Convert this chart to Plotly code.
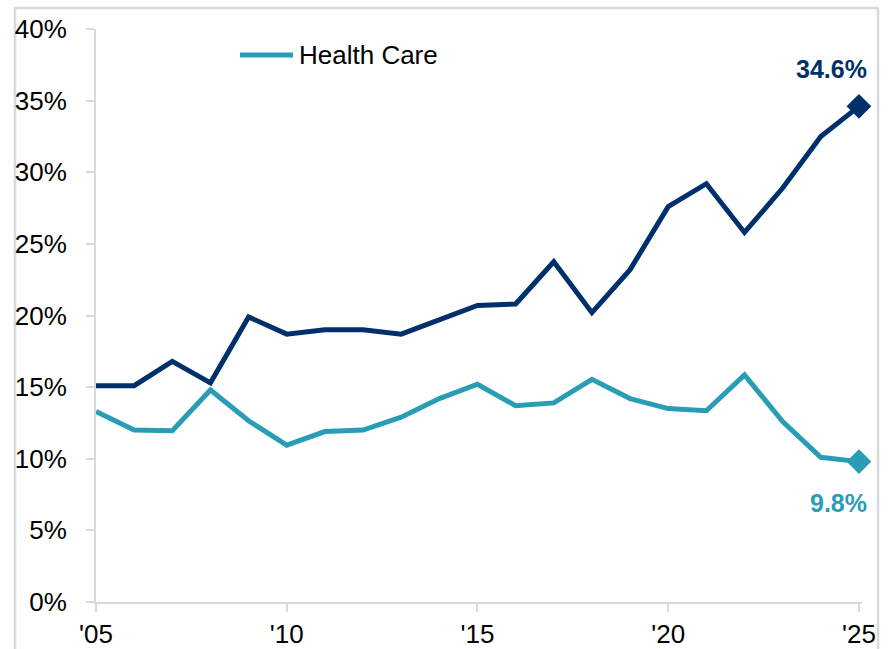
import plotly.graph_objects as go

# Share of total by year
years = list(range(2005, 2026))
series_dark = [15.1, 15.1, 16.8, 15.3, 19.9, 18.7, 19.0, 19.0, 18.7, 19.7, 20.7,
               20.8, 23.75, 20.2, 23.2, 27.6, 29.2, 25.8, 28.9, 32.5, 34.6]
health_care = [13.3, 12.0, 11.95, 14.8, 12.65, 10.95, 11.9, 12.0, 12.9, 14.2, 15.2,
               13.7, 13.9, 15.55, 14.2, 13.5, 13.35, 15.85, 12.6, 10.1, 9.8]

x_tick_vals = [2005, 2010, 2015, 2020, 2025]
x_tick_text = ["'05", "'10", "'15", "'20", "'25"]
y_tick_vals = [0, 5, 10, 15, 20, 25, 30, 35, 40]
y_tick_text = ["0%", "5%", "10%", "15%", "20%", "25%", "30%", "35%", "40%"]

DARK = "#00306B"
TEAL = "#2A9DB6"
GRAY = "#D9D9D9"
FONT = "Liberation Sans, Arial, sans-serif"

W, H = 891, 649
ML, MR, MT, MB = 96, 29, 29, 47
PW, PH = W - ML - MR, H - MT - MB


def px_x(p):
    return (p - ML) / PW


def px_y(p):
    return (H - MB - p) / PH


fig = go.Figure()

fig.add_trace(go.Scatter(
    x=years, y=series_dark, mode="lines",
    line=dict(color=DARK, width=5), showlegend=False, hoverinfo="skip"))
fig.add_trace(go.Scatter(
    x=years, y=health_care, mode="lines", name="Health Care",
    line=dict(color=TEAL, width=5), showlegend=False))

# End-point diamonds
fig.add_trace(go.Scatter(
    x=[years[-1]], y=[series_dark[-1]], mode="markers", cliponaxis=False,
    marker=dict(symbol="diamond", size=19, color=DARK), showlegend=False))
fig.add_trace(go.Scatter(
    x=[years[-1]], y=[health_care[-1]], mode="markers", cliponaxis=False,
    marker=dict(symbol="diamond", size=19, color=TEAL), showlegend=False))

# End-point value labels
fig.add_annotation(x=years[-1], y=series_dark[-1], text=f"<b>{series_dark[-1]:.1f}%</b>",
                   showarrow=False, xanchor="right", yanchor="middle",
                   xshift=10, yshift=37, font=dict(size=25, color=DARK, family=FONT))
fig.add_annotation(x=years[-1], y=health_care[-1], text=f"<b>{health_care[-1]:.1f}%</b>",
                   showarrow=False, xanchor="right", yanchor="middle",
                   xshift=10, yshift=-41, font=dict(size=25, color=TEAL, family=FONT))

# Legend entry
fig.add_shape(type="line", xref="paper", yref="paper",
              x0=px_x(240), x1=px_x(293), y0=px_y(55), y1=px_y(55),
              line=dict(color=TEAL, width=5))
fig.add_annotation(xref="paper", yref="paper", x=px_x(297), y=px_y(55),
                   text="Health Care", showarrow=False, xanchor="left", yanchor="middle",
                   font=dict(size=26, color="#000000", family=FONT))

# Outer frame
fig.add_shape(type="rect", xref="paper", yref="paper",
              x0=px_x(15), x1=px_x(878), y0=px_y(668), y1=px_y(8),
              line=dict(color=GRAY, width=2.5), layer="below")

fig.update_xaxes(
    range=[2005, 2025.08], tickvals=x_tick_vals, ticktext=x_tick_text,
    showgrid=False, zeroline=False, showline=True, linecolor=GRAY, linewidth=2,
    ticks="outside", ticklen=8, tickwidth=2, tickcolor=GRAY,
    tickfont=dict(size=26, color="#000000", family=FONT))
fig.update_yaxes(
    range=[0, 40], tickvals=y_tick_vals, ticktext=y_tick_text,
    showgrid=False, zeroline=False, showline=True, linecolor=GRAY, linewidth=2,
    ticks="outside", ticklen=8, tickwidth=2, tickcolor=GRAY, ticklabelstandoff=14,
    tickfont=dict(size=26, color="#000000", family=FONT))

fig.update_layout(
    width=W, height=H,
    margin=dict(l=ML, r=MR, t=MT, b=MB, autoexpand=False),
    plot_bgcolor="white", paper_bgcolor="white",
    font=dict(family=FONT),
)

fig.write_html("out.html")
